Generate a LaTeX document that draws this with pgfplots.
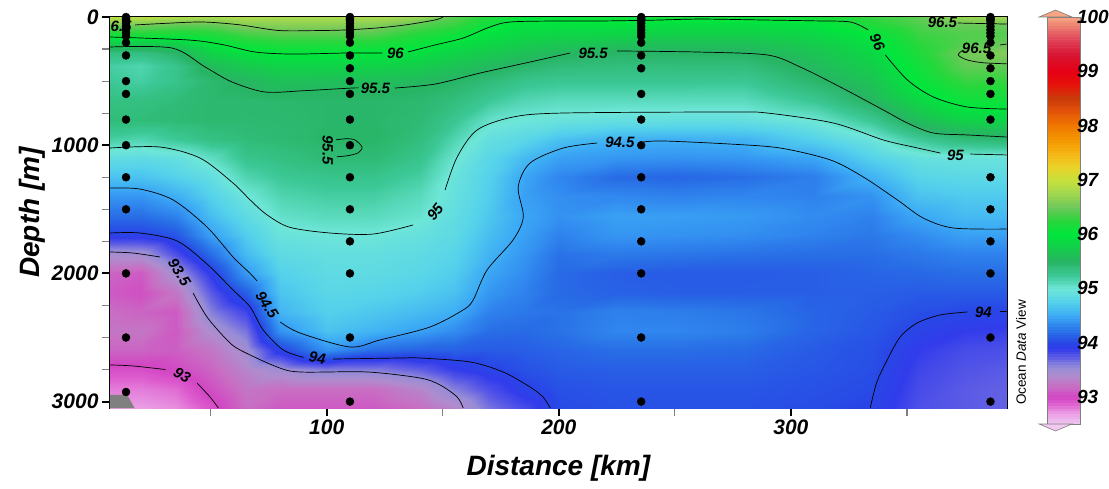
\documentclass[border=0pt]{standalone}
\usepackage{pgfplots}
\pgfplotsset{compat=1.18}
\usepackage{fontspec}
\setmainfont{Liberation Sans}
\newcommand\tickfont{\fontsize{21}{21}\selectfont\bfseries\itshape}
\newcommand\labfont{\fontsize{28}{28}\selectfont\bfseries\itshape}
\tikzset{clab/.style={font=\fontsize{15}{15}\selectfont\bfseries\itshape, inner sep=0pt}}
\pgfplotsset{
 colormap={odv}{
  rgb255(0pt)=(240,200,240);
  rgb255(20pt)=(235,160,230);
  rgb255(40pt)=(220,90,205);
  rgb255(50pt)=(210,70,195);
  rgb255(70pt)=(200,110,195);
  rgb255(90pt)=(175,140,205);
  rgb255(105pt)=(150,140,215);
  rgb255(125pt)=(90,90,230);
  rgb255(140pt)=(50,60,235);
  rgb255(150pt)=(40,70,230);
  rgb255(170pt)=(40,110,230);
  rgb255(185pt)=(50,140,240);
  rgb255(200pt)=(60,170,245);
  rgb255(225pt)=(85,210,235);
  rgb255(250pt)=(110,230,215);
  rgb255(275pt)=(60,200,150);
  rgb255(300pt)=(40,180,100);
  rgb255(325pt)=(20,205,75);
  rgb255(350pt)=(0,230,60);
  rgb255(375pt)=(40,215,60);
  rgb255(400pt)=(110,200,90);
  rgb255(425pt)=(160,215,80);
  rgb255(450pt)=(200,225,60);
  rgb255(475pt)=(235,210,40);
  rgb255(500pt)=(245,180,20);
  rgb255(525pt)=(245,150,0);
  rgb255(550pt)=(240,120,0);
  rgb255(580pt)=(225,80,10);
  rgb255(600pt)=(200,60,10);
  rgb255(625pt)=(230,20,10);
  rgb255(650pt)=(230,0,20);
  rgb255(680pt)=(215,20,50);
  rgb255(710pt)=(225,70,90);
  rgb255(750pt)=(245,165,130)
 }
}
\begin{document}
\begin{tikzpicture}
\useasboundingbox (0,0) rectangle (1109pt,488pt);
\begin{axis}[
  at={(110pt,80pt)}, anchor=south west,
  scale only axis, width=896.7pt, height=391pt,
  xmin=6.6, xmax=393, ymin=0, ymax=3050, y dir=reverse,
  xtick={100,200,300}, minor xtick={50,150,250,350},
  ytick={0,1000,2000,3000}, minor ytick={250,500,750,1250,1500,1750,2250,2500,2750},
  tick align=outside, major tick length=8pt, minor tick length=8pt,
  major tick style={black, line width=2pt},
  minor tick style={gray, line width=1.2pt},
  xtick pos=left, ytick pos=left,
  tick label style={font=\tickfont},
  /pgf/number format/assume math mode=true,
  /pgf/number format/1000 sep={},
  axis line style={line width=2.2pt},
  xlabel={Distance [km]}, ylabel={Depth [m]},
  label style={font=\labfont},
  xlabel style={yshift=-14pt},
  colormap name=odv,
  point meta min=92.5, point meta max=100,
  colorbar sampled,
  colorbar style={
    samples=151,
    at={(parent axis.north east)}, anchor=north west, xshift=32.3pt,
    scale only axis, width=33pt, height=407pt,
    ytick={93,94,...,100},
    ytick style={draw=none},
    yticklabel style={font=\fontsize{19}{19}\selectfont\bfseries\itshape, /pgf/number format/assume math mode=true, xshift=-7pt},
    axis line style={gray, line width=0.8pt},
  },
]
\addplot[surf, shader=interp, mesh/cols=21, mesh/rows=24, point meta=explicit] coordinates {
(6.6,0)[96.9] (20,0)[96.9] (35,0)[96.85] (50,0)[96.8] (65,0)[96.85] (80,0)[96.8] (100,0)[96.8] (120,0)[96.8] (140,0)[96.7] (155,0)[96.42] (170,0)[96.2] (185,0)[96.05] (200,0)[96.05] (225,0)[96.1] (250,0)[96.1] (280,0)[96.1] (310,0)[96.15] (335,0)[96.3] (355,0)[96.45] (375,0)[96.7] (393,0)[96.75]
(6.6,60)[96.55] (20,60)[96.52] (35,60)[96.45] (50,60)[96.45] (65,60)[96.6] (80,60)[96.62] (100,60)[96.62] (120,60)[96.6] (140,60)[96.4] (155,60)[96.3] (170,60)[96.08] (185,60)[95.95] (200,60)[95.95] (225,60)[95.95] (250,60)[95.9] (280,60)[95.9] (310,60)[95.95] (335,60)[96.2] (355,60)[96.38] (375,60)[96.48] (393,60)[96.48]
(6.6,130)[96.15] (20,130)[96.2] (35,130)[96.15] (50,130)[96.2] (65,130)[96.35] (80,130)[96.42] (100,130)[96.42] (120,130)[96.4] (140,130)[96.22] (155,130)[96.1] (170,130)[95.95] (185,130)[95.85] (200,130)[95.82] (225,130)[95.82] (250,130)[95.78] (280,130)[95.78] (310,130)[95.85] (335,130)[96.02] (355,130)[96.32] (375,130)[96.4] (393,130)[96.4]
(6.6,200)[95.75] (20,200)[95.75] (35,200)[95.8] (50,200)[96.0] (65,200)[96.15] (80,200)[96.22] (100,200)[96.22] (120,200)[96.2] (140,200)[96.08] (155,200)[95.95] (170,200)[95.85] (185,200)[95.75] (200,200)[95.7] (225,200)[95.65] (250,200)[95.63] (280,200)[95.63] (310,200)[95.75] (335,200)[95.92] (355,200)[96.26] (375,200)[96.42] (393,200)[96.47]
(6.6,280)[95.35] (20,280)[95.35] (35,280)[95.48] (50,280)[95.8] (65,280)[95.93] (80,280)[96.02] (100,280)[96.01] (120,280)[96.0] (140,280)[95.92] (155,280)[95.8] (170,280)[95.72] (185,280)[95.62] (200,280)[95.54] (225,280)[95.48] (250,280)[95.49] (280,280)[95.5] (310,280)[95.65] (335,280)[95.85] (355,280)[96.2] (375,280)[96.52] (393,280)[96.6]
(6.6,380)[95.2] (20,380)[95.15] (35,380)[95.3] (50,380)[95.58] (65,380)[95.72] (80,380)[95.8] (100,380)[95.8] (120,380)[95.8] (140,380)[95.75] (155,380)[95.65] (170,380)[95.56] (185,380)[95.47] (200,380)[95.4] (225,380)[95.38] (250,380)[95.38] (280,380)[95.38] (310,380)[95.56] (335,380)[95.76] (355,380)[96.12] (375,380)[96.45] (393,380)[96.45]
(6.6,500)[95.25] (20,500)[95.2] (35,500)[95.3] (50,500)[95.45] (65,500)[95.52] (80,500)[95.62] (100,500)[95.6] (120,500)[95.6] (140,500)[95.55] (155,500)[95.49] (170,500)[95.4] (185,500)[95.3] (200,500)[95.27] (225,500)[95.27] (250,500)[95.27] (280,500)[95.26] (310,500)[95.46] (335,500)[95.66] (355,500)[96.04] (375,500)[96.3] (393,500)[96.28]
(6.6,650)[95.35] (20,650)[95.35] (35,650)[95.4] (50,650)[95.45] (65,650)[95.45] (80,650)[95.46] (100,650)[95.47] (120,650)[95.47] (140,650)[95.45] (155,650)[95.38] (170,650)[95.25] (185,650)[95.14] (200,650)[95.1] (225,650)[95.1] (250,650)[95.1] (280,650)[95.1] (310,650)[95.27] (335,650)[95.53] (355,650)[95.85] (375,650)[96.1] (393,650)[96.1]
(6.6,800)[95.4] (20,800)[95.4] (35,800)[95.42] (50,800)[95.45] (65,800)[95.44] (80,800)[95.45] (100,800)[95.47] (120,800)[95.47] (140,800)[95.42] (155,800)[95.28] (170,800)[95.05] (185,800)[94.99] (200,800)[94.95] (225,800)[94.9] (250,800)[94.9] (280,800)[94.9] (310,800)[95.01] (335,800)[95.27] (355,800)[95.6] (375,800)[95.8] (393,800)[95.82]
(6.6,950)[95.2] (20,950)[95.15] (35,950)[95.25] (50,950)[95.35] (65,950)[95.4] (80,950)[95.43] (100,950)[95.48] (120,950)[95.48] (140,950)[95.38] (155,950)[95.15] (170,950)[94.9] (185,950)[94.8] (200,950)[94.65] (225,950)[94.55] (250,950)[94.53] (280,950)[94.56] (310,950)[94.75] (335,950)[94.97] (355,950)[95.25] (375,950)[95.4] (393,950)[95.45]
(6.6,1100)[94.88] (20,1100)[94.85] (35,1100)[94.9] (50,1100)[95.07] (65,1100)[95.3] (80,1100)[95.35] (100,1100)[95.42] (120,1100)[95.42] (140,1100)[95.3] (155,1100)[95.03] (170,1100)[94.8] (185,1100)[94.6] (200,1100)[94.45] (225,1100)[94.4] (250,1100)[94.38] (280,1100)[94.4] (310,1100)[94.48] (335,1100)[94.75] (355,1100)[94.92] (375,1100)[94.95] (393,1100)[94.95]
(6.6,1250)[94.65] (20,1250)[94.65] (35,1250)[94.75] (50,1250)[94.88] (65,1250)[95.15] (80,1250)[95.25] (100,1250)[95.3] (120,1250)[95.3] (140,1250)[95.2] (155,1250)[94.95] (170,1250)[94.75] (185,1250)[94.48] (200,1250)[94.32] (225,1250)[94.18] (250,1250)[94.16] (280,1250)[94.2] (310,1250)[94.28] (335,1250)[94.55] (355,1250)[94.78] (375,1250)[94.82] (393,1250)[94.82]
(6.6,1400)[94.4] (20,1400)[94.4] (35,1400)[94.53] (50,1400)[94.75] (65,1400)[94.98] (80,1400)[95.15] (100,1400)[95.2] (120,1400)[95.2] (140,1400)[95.1] (155,1400)[94.92] (170,1400)[94.72] (185,1400)[94.45] (200,1400)[94.36] (225,1400)[94.33] (250,1400)[94.3] (280,1400)[94.32] (310,1400)[94.3] (335,1400)[94.38] (355,1400)[94.65] (375,1400)[94.7] (393,1400)[94.7]
(6.6,1550)[94.2] (20,1550)[94.2] (35,1550)[94.3] (50,1550)[94.62] (65,1550)[94.85] (80,1550)[95.05] (100,1550)[95.1] (120,1550)[95.1] (140,1550)[95.03] (155,1550)[94.88] (170,1550)[94.68] (185,1550)[94.48] (200,1550)[94.38] (225,1550)[94.45] (250,1550)[94.44] (280,1550)[94.42] (310,1550)[94.35] (335,1550)[94.3] (355,1550)[94.49] (375,1550)[94.6] (393,1550)[94.6]
(6.6,1700)[93.97] (20,1700)[93.97] (35,1700)[94.08] (50,1700)[94.45] (65,1700)[94.72] (80,1700)[94.95] (100,1700)[94.98] (120,1700)[94.99] (140,1700)[94.92] (155,1700)[94.84] (170,1700)[94.62] (185,1700)[94.45] (200,1700)[94.3] (225,1700)[94.4] (250,1700)[94.38] (280,1700)[94.36] (310,1700)[94.3] (335,1700)[94.25] (355,1700)[94.35] (375,1700)[94.45] (393,1700)[94.45]
(6.6,1850)[93.45] (20,1850)[93.47] (35,1850)[93.8] (50,1850)[94.2] (65,1850)[94.6] (80,1850)[94.85] (100,1850)[94.9] (120,1850)[94.9] (140,1850)[94.85] (155,1850)[94.78] (170,1850)[94.56] (185,1850)[94.4] (200,1850)[94.22] (225,1850)[94.26] (250,1850)[94.24] (280,1850)[94.22] (310,1850)[94.2] (335,1850)[94.2] (355,1850)[94.25] (375,1850)[94.3] (393,1850)[94.3]
(6.6,2000)[93.15] (20,2000)[93.1] (35,2000)[93.48] (50,2000)[93.93] (65,2000)[94.42] (80,2000)[94.75] (100,2000)[94.85] (120,2000)[94.85] (140,2000)[94.8] (155,2000)[94.72] (170,2000)[94.48] (185,2000)[94.35] (200,2000)[94.18] (225,2000)[94.12] (250,2000)[94.1] (280,2000)[94.1] (310,2000)[94.12] (335,2000)[94.15] (355,2000)[94.17] (375,2000)[94.2] (393,2000)[94.2]
(6.6,2150)[93.1] (20,2150)[93.05] (35,2150)[93.25] (50,2150)[93.75] (65,2150)[94.12] (80,2150)[94.66] (100,2150)[94.8] (120,2150)[94.78] (140,2150)[94.72] (155,2150)[94.64] (170,2150)[94.4] (185,2150)[94.3] (200,2150)[94.18] (225,2150)[94.14] (250,2150)[94.12] (280,2150)[94.12] (310,2150)[94.12] (335,2150)[94.12] (355,2150)[94.1] (375,2150)[94.1] (393,2150)[94.1]
(6.6,2300)[93.2] (20,2300)[93.15] (35,2300)[93.1] (50,2300)[93.6] (65,2300)[93.85] (80,2300)[94.57] (100,2300)[94.74] (120,2300)[94.68] (140,2300)[94.6] (155,2300)[94.53] (170,2300)[94.3] (185,2300)[94.25] (200,2300)[94.22] (225,2300)[94.3] (250,2300)[94.28] (280,2300)[94.24] (310,2300)[94.15] (335,2300)[94.1] (355,2300)[94.04] (375,2300)[94.0] (393,2300)[93.99]
(6.6,2450)[93.25] (20,2450)[93.25] (35,2450)[93.1] (50,2450)[93.42] (65,2450)[93.65] (80,2450)[94.38] (100,2450)[94.65] (120,2450)[94.56] (140,2450)[94.45] (155,2450)[94.35] (170,2450)[94.2] (185,2450)[94.18] (200,2450)[94.22] (225,2450)[94.32] (250,2450)[94.32] (280,2450)[94.28] (310,2450)[94.15] (335,2450)[94.08] (355,2450)[93.97] (375,2450)[93.9] (393,2450)[93.88]
(6.6,2600)[93.15] (20,2600)[93.15] (35,2600)[93.12] (50,2600)[93.25] (65,2600)[93.48] (80,2600)[93.98] (100,2600)[94.38] (120,2600)[94.2] (140,2600)[94.14] (155,2600)[94.13] (170,2600)[94.1] (185,2600)[94.12] (200,2600)[94.15] (225,2600)[94.2] (250,2600)[94.2] (280,2600)[94.18] (310,2600)[94.1] (335,2600)[94.05] (355,2600)[93.9] (375,2600)[93.82] (393,2600)[93.8]
(6.6,2750)[92.95] (20,2750)[92.95] (35,2750)[93.02] (50,2750)[93.15] (65,2750)[93.35] (80,2750)[93.48] (100,2750)[93.6] (120,2750)[93.6] (140,2750)[93.72] (155,2750)[93.88] (170,2750)[93.98] (185,2750)[94.05] (200,2750)[94.1] (225,2750)[94.12] (250,2750)[94.12] (280,2750)[94.12] (310,2750)[94.08] (335,2750)[94.04] (355,2750)[93.85] (375,2750)[93.78] (393,2750)[93.75]
(6.6,2900)[92.8] (20,2900)[92.8] (35,2900)[92.85] (50,2900)[93.05] (65,2900)[93.25] (80,2900)[93.2] (100,2900)[93.2] (120,2900)[93.2] (140,2900)[93.35] (155,2900)[93.6] (170,2900)[93.8] (185,2900)[93.97] (200,2900)[94.05] (225,2900)[94.08] (250,2900)[94.08] (280,2900)[94.08] (310,2900)[94.05] (335,2900)[94.02] (355,2900)[93.82] (375,2900)[93.75] (393,2900)[93.72]
(6.6,3050)[92.7] (20,3050)[92.7] (35,3050)[92.75] (50,3050)[92.93] (65,3050)[93.2] (80,3050)[93.1] (100,3050)[93.1] (120,3050)[93.1] (140,3050)[93.2] (155,3050)[93.35] (170,3050)[93.65] (185,3050)[93.82] (200,3050)[94.02] (225,3050)[94.05] (250,3050)[94.05] (280,3050)[94.05] (310,3050)[94.03] (335,3050)[93.98] (355,3050)[93.8] (375,3050)[93.75] (393,3050)[93.72]
};
% bathymetry patch
\addplot[fill=gray, draw=none] coordinates {(6.6,2948) (14,2948) (17.2,3050) (6.6,3050)} -- cycle;
% contours
\pgfplotsset{cline/.style={black, line width=0.7pt, smooth, tension=0.5}}
% 96.5
\addplot[cline] coordinates {(17.4,62) (30,50) (46.3,39) (62,60) (79.1,105) (95,106) (108,101) (122,85) (133.8,62) (146.7,23) (150.1,0)};
\addplot[cline] coordinates {(372,47) (393,55)};
\addplot[cline] coordinates {(393,211) (390.2,218)};
\addplot[cline] coordinates {(374.3,257) (372.1,296) (376,335) (382.9,357) (393,365)};
% 96
\addplot[cline] coordinates {(6.6,156) (40.2,179) (55,215) (69.1,273) (85.1,289) (108,281) (124,281)};
\addplot[cline] coordinates {(135,273) (146.7,218) (158.8,164) (170,80) (179,39) (200,31) (217.8,31) (240,25) (260.9,16) (286.8,23) (310,30) (325.6,39) (333.3,101)};
\addplot[cline] coordinates {(340.7,296) (350.2,491) (361.4,624) (376,702) (393,718)};
% 95.5
\addplot[cline] coordinates {(6.6,234) (33.3,242) (47.6,390) (59.2,507) (73.4,585) (90,575) (110.9,554) (113,554)};
\addplot[cline] coordinates {(129.4,554) (146.7,523) (166.1,437) (187.6,351) (204.9,281)};
\addplot[cline] coordinates {(225.1,265) (259.6,273) (289.8,296) (304,390) (321.3,546) (339.8,725) (350.2,827) (361.4,905) (376,920) (393,936)};
\addplot[cline] coordinates {(104,958) (108,950) (112,958) (115.2,1014) (113.5,1060) (109,1082) (104.4,1090)};
% 95
\addplot[cline] coordinates {(6.6,1022) (28.1,1014) (45.4,1100) (59.6,1295) (67,1427) (74,1540) (84,1640) (101.4,1685) (120,1693) (137.2,1622)};
\addplot[cline] coordinates {(151,1349) (156.2,1092) (164.8,881) (180.3,780) (201.9,749) (273.8,741) (289.8,749) (318.3,827) (339.8,959) (352.7,1014) (364.4,1061)};
\addplot[cline] coordinates {(377.3,1069) (393,1076)};
% 94.5
\addplot[cline] coordinates {(6.6,1334) (19.5,1342) (33.8,1427) (48.4,1638) (59.6,1872) (67,2000) (70,2060)};
\addplot[cline] coordinates {(79.9,2379) (88.5,2465) (110,2574) (123,2519) (144.5,2418) (158.8,2285) (163.1,2207) (169.1,1973) (180.3,1739) (184.7,1560) (182.5,1326) (187.6,1139) (201.9,1022) (216.5,983)};
\addplot[cline] coordinates {(236.4,975) (245,967) (273.8,991) (295.4,1022) (317,1115) (331.2,1248) (345.9,1427) (357,1568) (370,1646) (393,1654)};
% 94
\addplot[cline] coordinates {(6.6,1685) (19.5,1685) (35.5,1747) (48.4,1927) (59.6,2129) (67,2262) (72.6,2441) (81.2,2597) (90,2655)};
\addplot[cline] coordinates {(102.7,2668) (131.6,2660) (140.2,2660) (161.8,2691) (176,2769) (187.6,2886) (193.2,2964) (196.3,3050)};
\addplot[cline] coordinates {(334.2,3050) (337,2850) (341.5,2675) (347.1,2496) (354.4,2387) (364.4,2324) (376,2301)};
\addplot[cline] coordinates {(390.2,2293) (393,2293)};
% 93.5
\addplot[cline] coordinates {(6.6,1833) (16.5,1841) (28.1,1872)};
\addplot[cline] coordinates {(42.4,2153) (48.4,2340) (57,2519) (62.6,2597) (78.6,2730) (88.5,2769) (117.4,2769) (140.2,2816) (148.8,2870) (156.2,2964) (158.8,3050)};
% 93
\addplot[cline] coordinates {(6.6,2714) (16.5,2722) (30.5,2750)};
\addplot[cline] coordinates {(44.1,2855) (49.7,2964) (53.3,3050)};
% stations
\addplot[only marks, mark=*, mark size=4pt, black] coordinates {
(13.5,0) (13.5,10) (13.5,20) (13.5,30) (13.5,50) (13.5,75) (13.5,100) (13.5,125) (13.5,150) (13.5,200) (13.5,300) (13.5,500) (13.5,600) (13.5,800) (13.5,1000) (13.5,1250) (13.5,1500) (13.5,2000) (13.5,2500) (13.5,2925)
(110,0) (110,10) (110,20) (110,30) (110,50) (110,75) (110,100) (110,125) (110,150) (110,200) (110,300) (110,400) (110,500) (110,600) (110,800) (110,1000) (110,1250) (110,1500) (110,1750) (110,2000) (110,2500) (110,3000)
(235.5,0) (235.5,10) (235.5,20) (235.5,30) (235.5,50) (235.5,75) (235.5,100) (235.5,125) (235.5,150) (235.5,200) (235.5,300) (235.5,400) (235.5,600) (235.5,800) (235.5,1000) (235.5,1250) (235.5,1500) (235.5,1750) (235.5,2000) (235.5,2500) (235.5,3000)
(386,0) (386,10) (386,20) (386,30) (386,50) (386,75) (386,100) (386,125) (386,150) (386,200) (386,300) (386,400) (386,500) (386,600) (386,800) (386,1250) (386,1500) (386,1750) (386,2000) (386,2500) (386,3000)
};
% contour labels
\node[clab, anchor=west] at (axis cs:6.8,70) {6.5};
\node[clab] at (axis cs:129.6,281) {96};
\node[clab, rotate=-65] at (axis cs:337.2,195) {96};
\node[clab] at (axis cs:365.3,40) {96.5};
\node[clab] at (axis cs:380,242) {96.5};
\node[clab] at (axis cs:121,554) {95.5};
\node[clab] at (axis cs:214.8,281) {95.5};
\node[clab, rotate=-90] at (axis cs:100.5,1037) {95.5};
\node[clab, rotate=52] at (axis cs:146.7,1521) {95};
\node[clab] at (axis cs:370.9,1076) {95};
\node[clab, rotate=-58] at (axis cs:74.3,2246) {94.5};
\node[clab] at (axis cs:226.3,975) {94.5};
\node[clab, rotate=-8] at (axis cs:96,2660) {94};
\node[clab] at (axis cs:383,2301) {94};
\node[clab, rotate=-58] at (axis cs:36.5,1990) {93.5};
\node[clab, rotate=-30] at (axis cs:37.7,2792) {93};
\end{axis}
% colorbar end caps
\filldraw[fill={rgb,255:red,245;green,165;blue,130}, draw=gray, line width=0.6pt] (1039pt,471pt) -- (1055.5pt,478pt) -- (1072pt,471pt) -- cycle;
\filldraw[fill={rgb,255:red,240;green,200;blue,240}, draw=gray, line width=0.6pt] (1039pt,64pt) -- (1055.5pt,57pt) -- (1072pt,64pt) -- cycle;
\node[rotate=90, anchor=west, inner sep=0pt, font=\fontsize{13.5}{13.5}\selectfont] at (1021pt,83pt) {Ocean \textit{Data} View};
\end{tikzpicture}
\end{document}
